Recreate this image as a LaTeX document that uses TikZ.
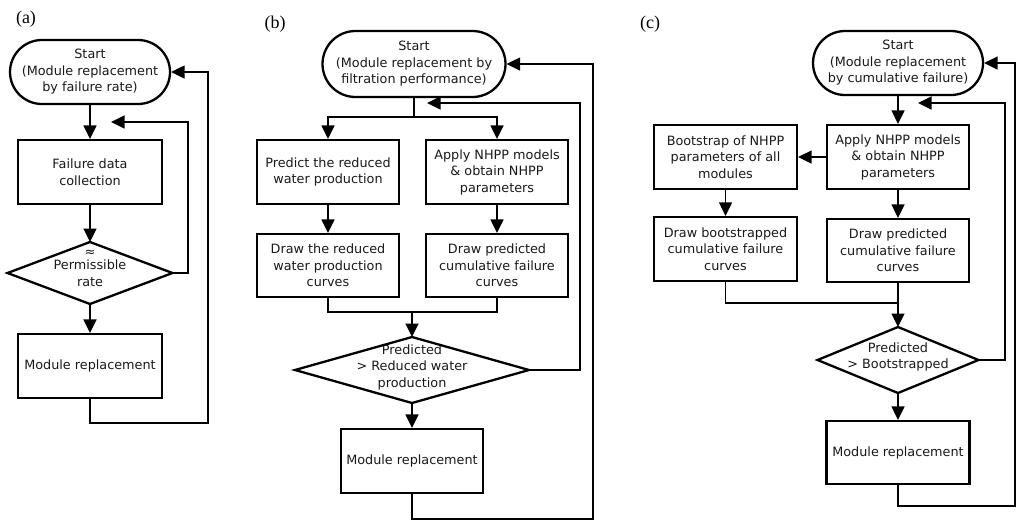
\documentclass[tikz,border=0pt]{standalone}
\usepackage{fontspec}
\usetikzlibrary{arrows.meta,calc,shapes.misc}
\newfontfamily\boxfont{DejaVu Sans}
\newfontfamily\tagfont{Liberation Serif}
\definecolor{LineClr}{RGB}{0,0,0}
\definecolor{TextClr}{RGB}{25,25,25}

\tikzset{
  procbox/.style={draw=LineClr,line width=2.3pt,rectangle,minimum width=142pt,minimum height=64pt,
    inner sep=0pt,align=center,text=TextClr,font=\boxfont\fontsize{12.8pt}{16.5pt}\selectfont},
  termbox/.style={procbox,rounded rectangle,minimum width=162pt},
  decbox/.style={procbox,draw=none},
  decline/.style={draw=LineClr,line width=2.3pt,line join=miter},
  link/.style={draw=LineClr,line width=1.5pt},
  flow/.style={link,-{Triangle[length=13.5pt,width=13pt]}},
  tag/.style={font=\tagfont\fontsize{18pt}{20pt}\selectfont}
}

\begin{document}
\begin{tikzpicture}[x=1pt,y=-1pt]
\useasboundingbox (0,0) rectangle (1016,520);

\node[tag] (ta) at (26,19) {(a)};
\node[tag] (tb) at (275,24) {(b)};
\node[tag] (tc) at (650,24) {(c)};

\node[termbox,minimum width=160pt] (sa) at (90,72) {Start\\(Module replacement\\by failure rate)};
\node[procbox,minimum width=144pt] (a1) at (90,172) {Failure data\\collection};
\node[decbox,minimum width=165pt,minimum height=62pt] (da) at (90,268) {{\fontsize{13pt}{13pt}\selectfont ≈}\\[-3pt]Permissible\\rate};
\node[procbox,minimum width=144pt] (ma) at (90,366) {Module replacement};
\coordinate (da-n) at (90,242);
\coordinate (da-e) at (172.5,273);
\coordinate (da-s) at (90,304);
\coordinate (da-w) at (7.5,273);
\draw[decline] (da-n) -- (da-e) -- (da-s) -- (da-w) -- cycle;
\coordinate (a-in) at (111,122);

\draw[flow] (sa.south) -- (a1.north);
\draw[flow] (a1.south) -- (da-n);
\draw[flow] (da-s) -- (ma.north);
\draw[flow] (da-e) -- ++(15.5,0) |- (a-in);
\draw[flow] (ma.south) -- ++(0,24) -- ++(118,0) |- (sa.east);

\node[termbox,minimum width=183pt,minimum height=66pt] (sb) at (414,64) {Start\\(Module replacement by\\filtration performance)};
\node[procbox] (b1) at (328,172) {Predict the reduced\\water production};
\node[procbox] (b2) at (497,172) {Apply NHPP models\\\& obtain NHPP\\parameters};
\node[procbox,minimum height=63pt] (b3) at (328,265.5) {Draw the reduced\\water production\\curves};
\node[procbox,minimum height=63pt] (b4) at (497,265.5) {Draw predicted\\cumulative failure\\curves};
\node[decbox,minimum width=234pt,minimum height=66pt] (db) at (412,367) {Predicted\\> Reduced water\\production};
\node[procbox] (mb) at (412,461) {Module replacement};
\coordinate (db-n) at (412,337);
\coordinate (db-e) at (529,370);
\coordinate (db-s) at (412,403);
\coordinate (db-w) at (295,370);
\draw[decline] (db-n) -- (db-e) -- (db-s) -- (db-w) -- cycle;
\coordinate (bs) at (414,117);
\coordinate (bm) at (412,312);
\coordinate (b-in) at (427,103);

\draw[link] (sb.south) -- (bs);
\draw[flow] (bs) -| (b1.north);
\draw[flow] (bs) -| (b2.north);
\draw[flow] (b1.south) -- (b3.north);
\draw[flow] (b2.south) -- (b4.north);
\draw[link] (b3.south) |- (bm) -| (b4.south);
\draw[flow] (bm) -- (db-n);
\draw[flow] (db-s) -- (mb.north);
\draw[flow] (db-e) -- ++(51,0) |- (b-in);
\draw[flow] (mb.south) -- ++(0,25) -- ++(181,0) |- (sb.east);

\node[termbox,minimum width=170pt] (sc) at (898,63) {Start\\(Module replacement\\by cumulative failure)};
\node[procbox] (c1) at (898,157) {Apply NHPP models\\\& obtain NHPP\\parameters};
\node[procbox,minimum width=143pt] (c2) at (725.5,157) {Bootstrap of NHPP\\parameters of all\\modules};
\node[procbox,minimum width=143pt] (c3) at (725.5,249) {Draw bootstrapped\\cumulative failure\\curves};
\node[procbox,minimum height=63pt] (c4) at (898,250.5) {Draw predicted\\cumulative failure\\curves};
\node[decbox,minimum width=161pt,minimum height=66pt] (dc) at (898,357) {Predicted\\> Bootstrapped};
\node[procbox,minimum width=143pt,minimum height=63pt] (mc) at (898,452.5) {Module replacement};
\coordinate (dc-n) at (898,327);
\coordinate (dc-e) at (978.5,360);
\coordinate (dc-s) at (898,393);
\coordinate (dc-w) at (817.5,360);
\draw[decline] (dc-n) -- (dc-e) -- (dc-s) -- (dc-w) -- cycle;
\coordinate (cm) at (898,303);
\coordinate (c-in) at (918,103);

\draw[flow] (sc.south) -- (c1.north);
\draw[flow] (c1.west) -- (c2.east);
\draw[flow] (c2.south) -- (c3.north);
\draw[flow] (c1.south) -- (c4.north);
\draw[link] (c3.south) |- (cm);
\draw[flow] (c4.south) -- (dc-n);
\draw[flow] (dc-s) -- (mc.north);
\draw[flow] (dc-e) -- ++(26.5,0) |- (c-in);
\draw[flow] (mc.south) -- ++(0,21) -- ++(117,0) |- (sc.east);

\end{tikzpicture}
\end{document}
